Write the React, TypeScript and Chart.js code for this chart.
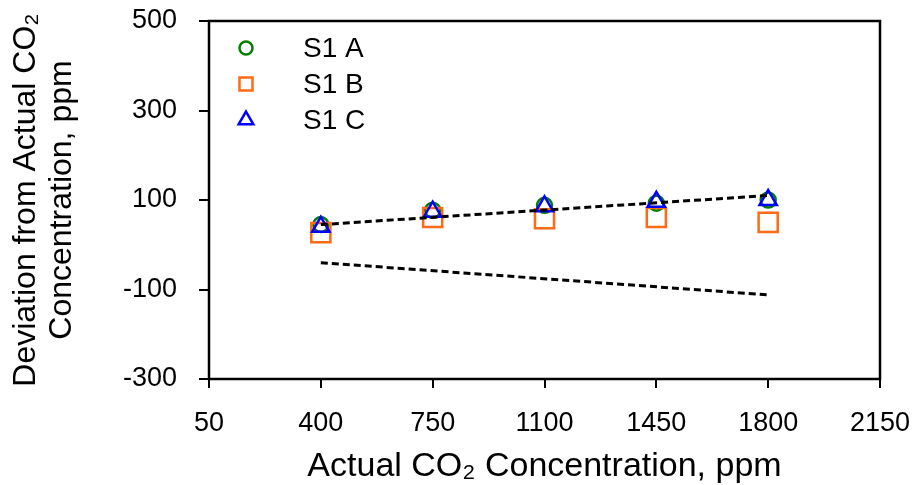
import React, { useEffect, useRef } from "react";
import { Chart, registerables } from "chart.js";

Chart.register(...registerables);

const xValues = [400, 750, 1100, 1450, 1800];
const s1A = [45, 77, 88, 93, 100];
const s1B = [27, 61, 58, 61, 50];
const s1C = [40, 74, 86, 96, 100];
const trendX = [400, 1800];
const upperTrend = [45, 110];
const lowerTrend = [-40, -112];
const seriesLabels = ["S1 A", "S1 B", "S1 C"];
const xTitle = "Actual CO\u2082 Concentration, ppm";
const yTitle = ["Deviation from Actual CO\u2082", "Concentration, ppm"];

const FONT = "'Liberation Sans', Arial, sans-serif";

const pts = (xs: number[], ys: number[]) => xs.map((x, i) => ({ x, y: ys[i] }));

const legendItems = [
  { label: seriesLabels[0], style: "circle", color: "#008000" },
  { label: seriesLabels[1], style: "rect", color: "#FF6A14" },
  { label: seriesLabels[2], style: "triangle", color: "#0000FF" },
];

const framePlugin = {
  id: "frameAndLegend",
  afterDraw(chart: any) {
    const { ctx, chartArea } = chart;
    ctx.save();
    ctx.strokeStyle = "#000";
    ctx.lineWidth = 2.5;
    ctx.strokeRect(chartArea.left, chartArea.top, chartArea.right - chartArea.left, chartArea.bottom - chartArea.top);
    const mx = chartArea.left + 37;
    const tx = chartArea.left + 94;
    legendItems.forEach((it, i) => {
      const y = chartArea.top + 27 + i * 36;
      ctx.strokeStyle = it.color;
      ctx.lineWidth = 2.5;
      ctx.beginPath();
      if (it.style === "circle") {
        ctx.arc(mx, y, 6.5, 0, Math.PI * 2);
      } else if (it.style === "rect") {
        ctx.rect(mx - 6.5, y - 6.5, 13, 13);
      } else {
        const r = 8.5;
        ctx.moveTo(mx, y - r);
        ctx.lineTo(mx + r * Math.sin(Math.PI / 3), y + r / 2);
        ctx.lineTo(mx - r * Math.sin(Math.PI / 3), y + r / 2);
        ctx.closePath();
      }
      ctx.stroke();
      ctx.fillStyle = "#000";
      ctx.font = `28px ${FONT}`;
      ctx.textAlign = "left";
      ctx.textBaseline = "middle";
      ctx.fillText(it.label, tx, y + 1);
    });
    ctx.restore();
  },
};

const zeroPad = (s: any) => {
  s.paddingTop = 0;
  s.paddingBottom = 0;
  s.paddingLeft = 0;
  s.paddingRight = 0;
};

export default function App() {
  const ref = useRef<HTMLCanvasElement>(null);
  useEffect(() => {
    if (!ref.current) return;
    const chart = new Chart(ref.current, {
      type: "scatter",
      data: {
        datasets: [
          {
            label: seriesLabels[0],
            data: pts(xValues, s1A),
            pointStyle: "circle",
            pointRadius: 7.5,
            pointBorderWidth: 2.5,
            borderColor: "#008000",
            backgroundColor: "rgba(0,0,0,0)",
            order: 3,
          },
          {
            label: seriesLabels[1],
            data: pts(xValues, s1B),
            pointStyle: "rect",
            pointRadius: 13.5,
            pointBorderWidth: 2.5,
            borderColor: "#FF6A14",
            backgroundColor: "rgba(0,0,0,0)",
            order: 2,
          },
          {
            label: seriesLabels[2],
            data: pts(xValues, s1C),
            pointStyle: "triangle",
            pointRadius: 10,
            pointBorderWidth: 2.5,
            borderColor: "#0000FF",
            backgroundColor: "rgba(0,0,0,0)",
            order: 1,
          },
          {
            label: "trend upper",
            data: pts(trendX, upperTrend),
            showLine: true,
            borderColor: "#000",
            borderWidth: 3,
            borderDash: [7, 4],
            pointRadius: 0,
            order: 0,
          },
          {
            label: "trend lower",
            data: pts(trendX, lowerTrend),
            showLine: true,
            borderColor: "#000",
            borderWidth: 3,
            borderDash: [7, 4],
            pointRadius: 0,
            order: 0,
          },
        ],
      },
      options: {
        animation: false,
        responsive: false,
        maintainAspectRatio: false,
        layout: { padding: { top: 21, right: 38, left: 0, bottom: 0 } },
        plugins: { legend: { display: false }, tooltip: { enabled: false } },
        scales: {
          x: {
            type: "linear",
            min: 50,
            max: 2150,
            afterFit: (s: any) => {
              s.height = 485 - 379;
              zeroPad(s);
            },
            ticks: {
              stepSize: 350,
              color: "#000",
              padding: 19,
              font: { size: 27, family: FONT },
              callback: (v: any) => String(v),
            },
            grid: { drawOnChartArea: false, drawTicks: true, tickLength: 9, color: "#000", lineWidth: 2 },
            border: { display: false },
            title: {
              display: true,
              text: xTitle,
              color: "#000",
              font: { size: 34, family: FONT, lineHeight: 1.0 },
              padding: { top: 0, bottom: 1 },
            },
          },
          y: {
            type: "linear",
            min: -300,
            max: 500,
            afterFit: (s: any) => {
              s.width = 209;
              zeroPad(s);
            },
            ticks: {
              stepSize: 200,
              color: "#000",
              padding: 22,
              font: { size: 27, family: FONT },
              callback: (v: any) => String(v),
            },
            grid: { drawOnChartArea: false, drawTicks: true, tickLength: 10, color: "#000", lineWidth: 2 },
            border: { display: false },
            title: {
              display: true,
              text: yTitle,
              color: "#000",
              font: { size: 32, family: FONT, lineHeight: 1.125 },
              padding: { top: 8, bottom: 0 },
            },
          },
        },
      },
      plugins: [framePlugin],
    });
    return () => chart.destroy();
  }, []);
  return (
    <div style={{ position: "fixed", left: 0, top: 0, width: 918, height: 485, background: "#fff" }}>
      <canvas ref={ref} width={918} height={485} style={{ display: "block" }} />
    </div>
  );
}
